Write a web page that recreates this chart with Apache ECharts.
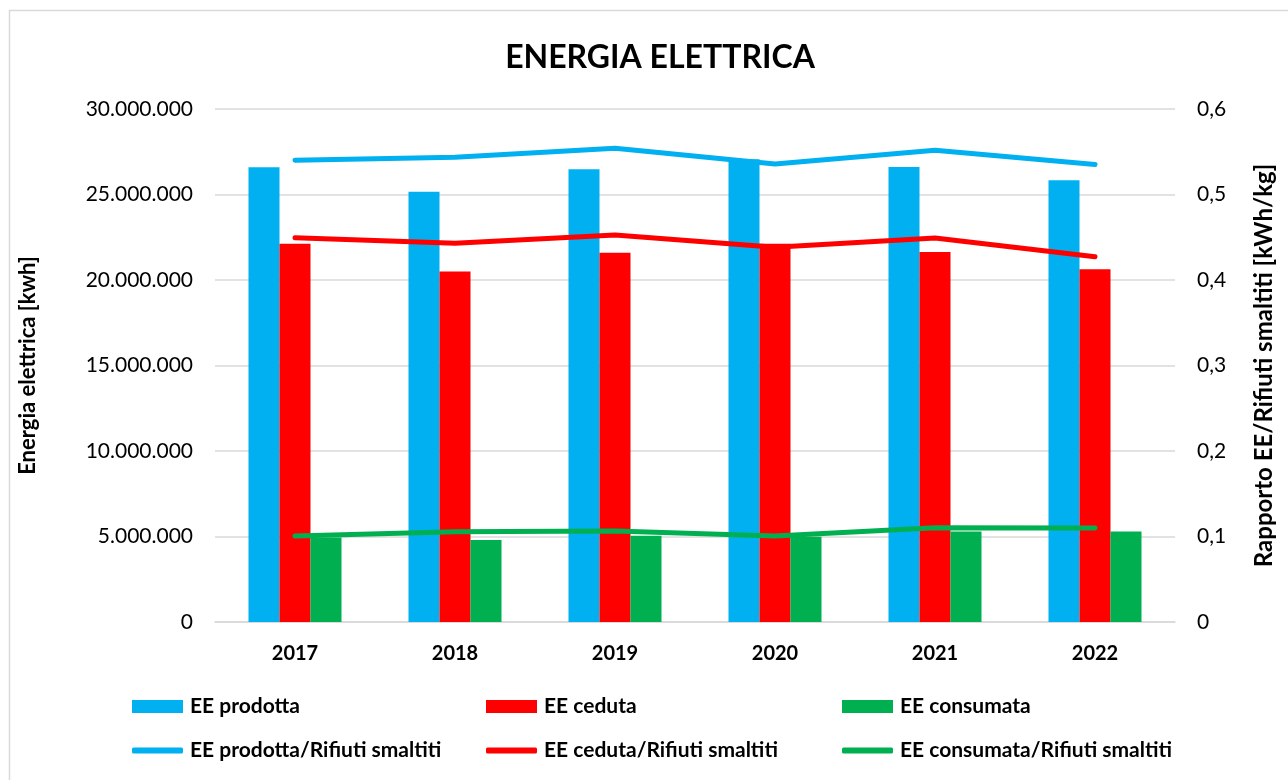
<!DOCTYPE html>
<html>
<head>
<meta charset="utf-8">
<script src="https://cdn.jsdelivr.net/npm/echarts@6/dist/echarts.min.js"></script>
<style>
  html, body { margin: 0; padding: 0; background: #fff; }
  #chart { width: 1288px; height: 780px; }
</style>
</head>
<body>
<div id="chart"></div>
<script>
// anni
let years = ["2017", "2018", "2019", "2020", "2021", "2022"]

// energia elettrica [kwh]
let eeProdotta = [26590000, 25160000, 26470000, 27060000, 26610000, 25830000]
let eeCeduta = [22120000, 20490000, 21600000, 22120000, 21640000, 20630000]
let eeConsumata = [4940000, 4800000, 5040000, 4980000, 5290000, 5290000]

// rapporto EE / rifiuti smaltiti [kWh/kg]
let rapProdotta = [0.540, 0.5435, 0.554, 0.5357, 0.5517, 0.535]
let rapCeduta = [0.4495, 0.4429, 0.4526, 0.4382, 0.449, 0.4273]
let rapConsumata = [0.1005, 0.1057, 0.1064, 0.1005, 0.1103, 0.1100]

let font = "Lato, 'Open Sans', sans-serif"
let blue = "#00B0F0"
let red = "#FF0000"
let green = "#00B050"

//dots as thousand separator
function fmtKwh(v) {
  return String(Math.round(v)).replace(/\B(?=(\d{3})+(?!\d))/g, ".")
}
function fmtRatio(v) {
  return String(Math.round(v * 10) / 10).replace(".", ",")
}

function legendAt(name, left, top, isLine) {
  return {
    data: [name],
    left: left,
    top: top,
    padding: 0,
    icon: isLine ? "roundRect" : "rect",
    itemWidth: 51,
    itemHeight: isLine ? 6 : 13,
    itemGap: 0,
    textStyle: { fontFamily: font, fontSize: 21, fontWeight: 700, color: "#000", padding: [0, 0, 0, 2] }
  }
}

let myChart = echarts.init(document.getElementById("chart"))
let option = {
  backgroundColor: "#fff",
  animation: false,
  title: {
    text: "ENERGIA ELETTRICA",
    left: 655,
    top: 37,
    textAlign: "center",
    textStyle: { fontFamily: font, fontSize: 32, fontWeight: "bold", color: "#000" }
  },
  graphic: [
    {
      type: "rect",
      shape: { x: 9.5, y: 10.5, width: 1400, height: 900 },
      style: { fill: "none", stroke: "#d9d9d9", lineWidth: 1.5 },
      silent: true
    }
  ],
  legend: [
    legendAt("EE prodotta", 132, 696, false),
    legendAt("EE ceduta", 486, 696, false),
    legendAt("EE consumata", 842, 696, false),
    legendAt("EE prodotta/Rifiuti smaltiti", 132, 740, true),
    legendAt("EE ceduta/Rifiuti smaltiti", 486, 740, true),
    legendAt("EE consumata/Rifiuti smaltiti", 842, 740, true)
  ],
  grid: { left: 215, right: 113, top: 109, bottom: 158 },
  xAxis: {
    type: "category",
    data: years,
    axisLine: { lineStyle: { color: "#d9d9d9", width: 1.5 } },
    axisTick: { show: false },
    axisLabel: { margin: 22, fontFamily: font, fontSize: 20, fontWeight: 700, color: "#000" }
  },
  yAxis: [
    {
      type: "value",
      min: 0,
      max: 30000000,
      interval: 5000000,
      name: "Energia elettrica [kwh]",
      nameLocation: "middle",
      nameGap: 176,
      nameTextStyle: { fontFamily: font, fontSize: 22, fontWeight: 700, color: "#000" },
      axisLine: { show: false },
      axisTick: { show: false },
      splitLine: { lineStyle: { color: "#d9d9d9", width: 1.5 } },
      axisLabel: { margin: 22, fontFamily: font, fontSize: 21, color: "#000", formatter: fmtKwh }
    },
    {
      type: "value",
      min: 0,
      max: 0.6,
      interval: 0.1,
      name: "Rapporto EE/Rifiuti smaltiti [kWh/kg]",
      nameLocation: "middle",
      nameGap: 77,
      nameRotate: 90,
      nameTextStyle: { fontFamily: font, fontSize: 24, fontWeight: 700, color: "#000" },
      axisLine: { show: false },
      axisTick: { show: false },
      splitLine: { show: false },
      axisLabel: { margin: 22, fontFamily: font, fontSize: 21, color: "#000", formatter: fmtRatio }
    }
  ],
  series: [
    { name: "EE prodotta", type: "bar", data: eeProdotta, barWidth: 31, barGap: "0%", itemStyle: { color: blue } },
    { name: "EE ceduta", type: "bar", data: eeCeduta, barWidth: 31, barGap: "0%", itemStyle: { color: red } },
    { name: "EE consumata", type: "bar", data: eeConsumata, barWidth: 31, barGap: "0%", itemStyle: { color: green } },
    {
      name: "EE prodotta/Rifiuti smaltiti", type: "line", yAxisIndex: 1, data: rapProdotta,
      symbol: "none", itemStyle: { color: blue }, lineStyle: { color: blue, width: 5, cap: "round" }
    },
    {
      name: "EE ceduta/Rifiuti smaltiti", type: "line", yAxisIndex: 1, data: rapCeduta,
      symbol: "none", itemStyle: { color: red }, lineStyle: { color: red, width: 5, cap: "round" }
    },
    {
      name: "EE consumata/Rifiuti smaltiti", type: "line", yAxisIndex: 1, data: rapConsumata,
      symbol: "none", itemStyle: { color: green }, lineStyle: { color: green, width: 5, cap: "round" }
    }
  ]
}
myChart.setOption(option)
</script>
</body>
</html>
